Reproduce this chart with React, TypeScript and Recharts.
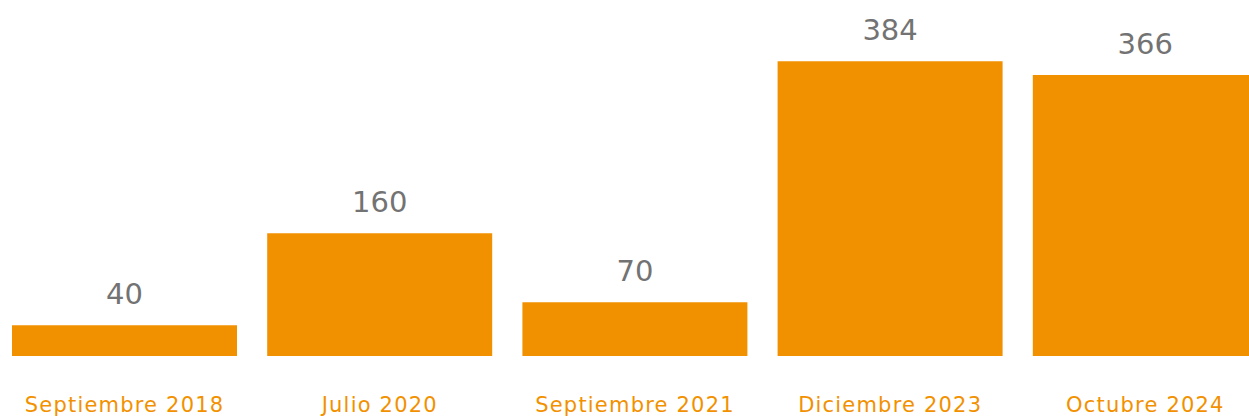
import { BarChart, Bar, XAxis, YAxis, LabelList } from 'recharts';

const categories = ['Septiembre 2018', 'Julio 2020', 'Septiembre 2021', 'Diciembre 2023', 'Octubre 2024'];
const values = [40, 160, 70, 384, 366];

const BAR_COLOR = '#F29100';
const LABEL_COLOR = '#737373';
const FONT = '"DejaVu Sans", sans-serif';

const chartData = categories.map((name, i) => ({ name, value: values[i] }));

export default function App() {
  return (
    <div style={{ position: 'fixed', left: 0, top: 0, width: 1249, height: 417, overflow: 'hidden', background: '#fff' }}>
      <div style={{ position: 'absolute', left: -3, top: 0 }}>
        <BarChart
          width={1276}
          height={417}
          data={chartData}
          margin={{ top: 49, right: 0, left: 0, bottom: 0 }}
          barCategoryGap={15}
        >
          <YAxis hide domain={[0, 400]} />
          <XAxis
            dataKey="name"
            height={61}
            axisLine={false}
            tickLine={false}
            tickSize={0}
            tickMargin={41}
            interval={0}
            tick={{ fontSize: 21, fill: BAR_COLOR, fontFamily: FONT, letterSpacing: 1.2 }}
          />
          <Bar dataKey="value" fill={BAR_COLOR} isAnimationActive={false}>
            <LabelList
              dataKey="value"
              position="top"
              offset={21}
              style={{ fontSize: 29, fill: LABEL_COLOR, fontFamily: FONT }}
            />
          </Bar>
        </BarChart>
      </div>
    </div>
  );
}
